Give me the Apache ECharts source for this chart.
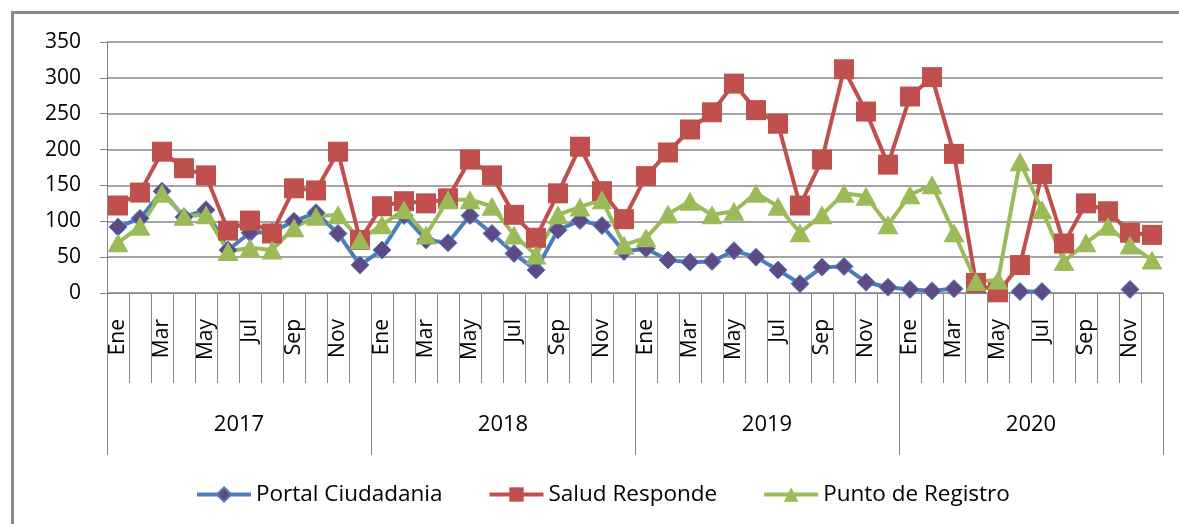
<!DOCTYPE html>
<html>
<head>
<meta charset="utf-8">
<script src="https://cdn.jsdelivr.net/npm/echarts@6/dist/echarts.min.js"></script>
<style>
html,body{margin:0;padding:0;background:#fff;}
#c{width:1179px;height:524px;}
</style>
</head>
<body>
<div id="c"></div>
<script>
const years = ['2017','2018','2019','2020'];
const months = ['Ene','Feb','Mar','Abr','May','Jun','Jul','Ago','Sep','Oct','Nov','Dic'];
const yTicks = [0,50,100,150,200,250,300,350];

const portalCiudadania = [
  92,104,142,106,116,60,84,85,100,112,83,39,
  60,108,74,70,108,83,55,32,88,101,94,58,
  62,46,43,44,59,50,32,13,36,37,15,8,
  5,3,6,null,null,2,2,null,null,null,5,null
];
const saludResponde = [
  122,140,197,174,164,87,101,83,146,143,197,74,
  121,128,125,132,186,164,109,77,139,204,142,103,
  163,196,228,252,292,255,236,122,186,312,253,179,
  274,301,194,14,1,39,166,69,125,114,84,81
];
const puntoRegistro = [
  70,93,139,107,109,58,63,60,91,107,109,74,
  95,116,81,130,130,121,81,53,109,120,130,67,
  77,110,128,109,114,139,121,84,109,139,135,95,
  137,151,84,16,18,183,116,44,70,93,67,46
];

const categories = [];
years.forEach(y => months.forEach(m => categories.push(y + '-' + m)));

const FONT = 'Open Sans';
const GRAY = '#868686';

const chart = echarts.init(document.getElementById('c'));
chart.setOption({
  animation: false,
  backgroundColor: '#fff',
  textStyle: {fontFamily: FONT, color: '#000'},
  graphic: [{
    type: 'rect',
    shape: {x: 12.5, y: 12.5, width: 1400, height: 800},
    style: {fill: 'none', stroke: '#8a8a8a', lineWidth: 3},
    silent: true
  }],
  grid: {left: 107, right: 16, top: 42, bottom: 231, containLabel: false},
  legend: {
    top: 478,
    left: 190,
    itemWidth: 54,
    itemHeight: 18,
    itemGap: 45,
    lineStyle: {width: 4},
    textStyle: {fontFamily: FONT, fontSize: 22.5, color: '#000'},
    data: ['Portal Ciudadania', 'Salud Responde', 'Punto de Registro']
  },
  xAxis: [{
    type: 'category',
    data: categories,
    boundaryGap: true,
    axisLine: {show: true, lineStyle: {color: GRAY, width: 1}},
    axisTick: {show: true, interval: 0, length: 90, lineStyle: {color: GRAY, width: 1}},
    axisLabel: {
      interval: 1,
      rotate: 90,
      margin: 26,
      fontFamily: FONT,
      fontSize: 21,
      color: '#000',
      formatter: v => v.split('-')[1]
    },
    splitLine: {show: false}
  }, {
    type: 'category',
    data: years,
    position: 'bottom',
    boundaryGap: true,
    axisLine: {show: false},
    axisTick: {show: true, interval: 0, length: 162, lineStyle: {color: GRAY, width: 1}},
    axisLabel: {margin: 121, fontFamily: FONT, fontSize: 22, color: '#000'},
    splitLine: {show: false}
  }],
  yAxis: {
    type: 'value',
    min: yTicks[0],
    max: yTicks[yTicks.length - 1],
    interval: 50,
    axisLine: {show: true, lineStyle: {color: GRAY, width: 1}},
    axisTick: {show: true, length: 7, lineStyle: {color: GRAY, width: 1}},
    axisLabel: {margin: 26, fontFamily: FONT, fontSize: 21, color: '#000'},
    splitLine: {show: true, lineStyle: {color: GRAY, width: 1.5}}
  },
  series: [{
    name: 'Portal Ciudadania',
    type: 'line',
    data: portalCiudadania,
    connectNulls: false,
    showAllSymbol: true,
    symbol: 'diamond',
    symbolSize: 18,
    itemStyle: {color: '#5e4b85', borderColor: '#4f81bd', borderWidth: 1},
    lineStyle: {color: '#4a7ebb', width: 4}
  }, {
    name: 'Salud Responde',
    type: 'line',
    data: saludResponde,
    showAllSymbol: true,
    symbol: 'rect',
    symbolSize: 20,
    itemStyle: {color: '#c0504d'},
    lineStyle: {color: '#c0504d', width: 4}
  }, {
    name: 'Punto de Registro',
    type: 'line',
    data: puntoRegistro,
    showAllSymbol: true,
    symbol: 'triangle',
    symbolSize: [21, 19],
    itemStyle: {color: '#9bbb59'},
    lineStyle: {color: '#9bbb59', width: 4}
  }]
});
</script>
</body>
</html>
